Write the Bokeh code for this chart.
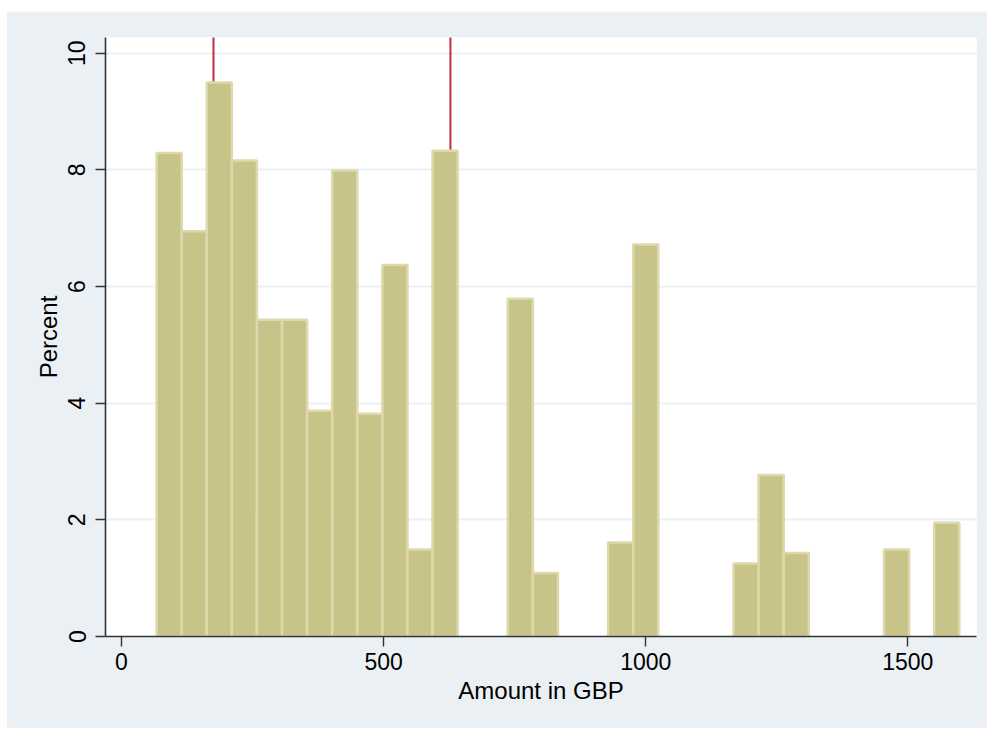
from bokeh.plotting import figure
from bokeh.layouts import column, row
from bokeh.models import Spacer, ColumnDataSource, FixedTicker, Range1d
from bokeh.embed import file_html
from bokeh.resources import INLINE

# ---- data ----
bin_start = 67.0
bin_width = 47.85
percent = [8.29, 6.95, 9.50, 8.16, 5.43, 5.43, 3.87, 7.99, 3.82, 6.37, 1.49, 8.33,
           0.0, 0.0, 5.79, 1.09, 0.0, 0.0, 1.61, 6.72, 0.0, 0.0, 0.0, 1.25,
           2.77, 1.43, 0.0, 0.0, 0.0, 1.49, 0.0, 1.95]
ref_lines = [175.5, 627.5]
x_ticks = [0, 500, 1000, 1500]
y_ticks = [0, 2, 4, 6, 8, 10]
x_title = "Amount in GBP"
y_title = "Percent"

lefts = [bin_start + i * bin_width for i in range(len(percent))]
rights = [l + bin_width for l in lefts]
keep = [i for i, v in enumerate(percent) if v > 0]
src = ColumnDataSource(dict(left=[lefts[i] for i in keep],
                            right=[rights[i] for i in keep],
                            top=[percent[i] for i in keep],
                            bottom=[0.0] * len(keep)))

PANEL = "#EAF0F3"
FONT = "Liberation Sans"

p = figure(width=981, height=717, output_backend="svg", toolbar_location=None,
           x_range=Range1d(-30.5, 1631), y_range=Range1d(0, 10.27),
           min_border_left=99, min_border_right=11, min_border_top=26, min_border_bottom=92)
p.background_fill_color = "white"
p.border_fill_color = PANEL
p.outline_line_color = None

# reference lines (behind bars)
p.segment(x0=ref_lines, x1=ref_lines, y0=[0] * len(ref_lines), y1=[11] * len(ref_lines),
          line_color="#C42D46", line_width=2)

p.quad(left="left", right="right", top="top", bottom="bottom", source=src,
       fill_color="#C8C388", line_color="#DDD9AC", line_width=2.5)

# grid
p.xgrid.visible = False
p.ygrid.ticker = FixedTicker(ticks=y_ticks)
p.ygrid.grid_line_color = "#EAF1F2"
p.ygrid.grid_line_width = 2

for ax in (p.xaxis[0], p.yaxis[0]):
    ax.axis_line_color = "#333333"
    ax.axis_line_width = 1.6
    ax.major_tick_line_color = "#333333"
    ax.major_tick_line_width = 1.4
    ax.major_tick_out = 10
    ax.major_tick_in = 0
    ax.minor_tick_line_color = None
    ax.major_label_text_font = FONT
    ax.major_label_text_font_size = "23px"
    ax.major_label_text_color = "black"
    ax.axis_label_text_font = FONT
    ax.axis_label_text_font_size = "24px"
    ax.axis_label_text_font_style = "normal"
    ax.axis_label_text_color = "black"

p.xaxis.ticker = FixedTicker(ticks=x_ticks)
p.yaxis.ticker = FixedTicker(ticks=y_ticks)
p.xaxis.axis_label = x_title
p.yaxis.axis_label = y_title
p.yaxis.major_label_orientation = "vertical"
p.xaxis.major_label_standoff = 6
p.yaxis.major_label_standoff = 10
p.xaxis.axis_label_standoff = 4
p.yaxis.axis_label_standoff = 4

layout = column(Spacer(height=11, width=987),
                row(Spacer(width=6, height=717), p, spacing=0),
                spacing=0)
open("out.html", "w").write(file_html(layout, INLINE))
